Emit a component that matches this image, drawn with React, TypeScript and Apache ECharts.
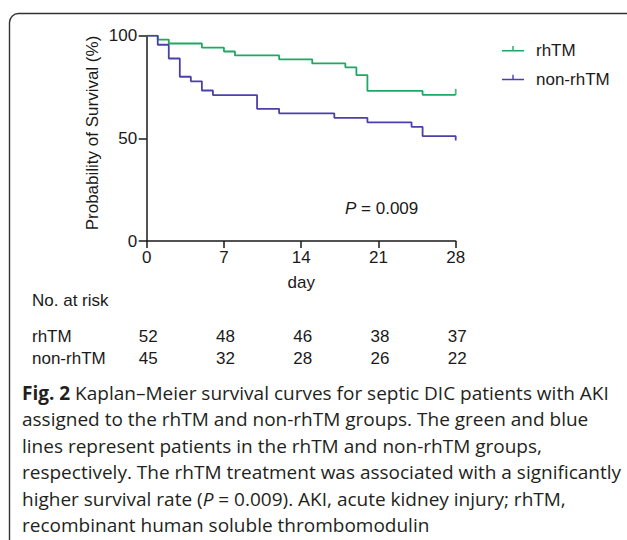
import React, { useEffect, useRef } from "react";
import * as echarts from "echarts";

// ---- data ----
const xTicks = [0, 7, 14, 21, 28];
const yTicks = [0, 50, 100];
const rhTMSurvival: [number, number][] = [
  [0, 100], [1, 98.1], [2, 96.2], [5, 94.2], [7, 92.3], [8, 90.4], [12, 88.5],
  [15, 86.5], [18, 84.6], [19, 80.8], [20, 73.1], [25, 71.2], [28, 71.2],
];
const nonRhTMSurvival: [number, number][] = [
  [0, 100], [1, 95.6], [2, 88.9], [3, 80.0], [4, 77.8], [5, 73.3], [6, 71.1],
  [10, 64.4], [12, 62.2], [17, 60.0], [20, 57.8], [24, 55.6], [25, 51.1], [28, 48.9],
];
const rhTMCensored: [number, number][] = [[28, 71.2]];
const atRiskDays = [0, 7, 14, 21, 28];
const rhTMAtRisk = [52, 48, 46, 38, 37];
const nonRhTMAtRisk = [45, 32, 28, 26, 22];
const groupNames = ["rhTM", "non-rhTM"];
const pValueText = " = 0.009";
const captionLines = [
  "{b|Fig. 2} Kaplan–Meier survival curves for septic DIC patients with AKI",
  "assigned to the rhTM and non-rhTM groups. The green and blue",
  "lines represent patients in the rhTM and non-rhTM groups,",
  "respectively. The rhTM treatment was associated with a significantly",
  "higher survival rate ({i|P} = 0.009). AKI, acute kidney injury; rhTM,",
  "recombinant human soluble thrombomodulin",
];

const GREEN = "#1fa863";
const BLUE = "#4b40aa";
const INK = "#1a1a1a";
const SANS = "'Liberation Sans', Arial, sans-serif";
const CAP = "'Open Sans', 'Noto Sans', sans-serif";
const FS = 17;
const CAP_FS = 19;

const legendIcon =
  "path://M0,0M22,12M0,5.25H22V6.75H0ZM10.3,1.3H11.7V6H10.3Z";

export default function App() {
  const ref = useRef<HTMLDivElement>(null);
  useEffect(() => {
    if (!ref.current) return;
    const chart = echarts.init(ref.current, undefined, { renderer: "svg" });
    const option: any = {
      animation: false,
      backgroundColor: "#fff",
      grid: { left: 146.7, top: 35.7, width: 309, height: 205.3, containLabel: false },
      legend: {
        orient: "vertical",
        left: 502,
        top: 42.2,
        padding: 0,
        itemWidth: 22,
        itemHeight: 12,
        itemGap: 11.7,
        icon: legendIcon,
        data: groupNames,
        textStyle: { fontFamily: SANS, fontSize: FS, color: INK, lineHeight: 17, padding: [0, 0, 0, 7] },
      },
      xAxis: {
        type: "value",
        min: xTicks[0],
        max: xTicks[xTicks.length - 1],
        interval: 7,
        name: "day",
        nameLocation: "middle",
        nameGap: 33,
        nameTextStyle: { fontFamily: SANS, fontSize: FS, color: INK },
        splitLine: { show: false },
        axisLine: { lineStyle: { color: INK, width: 1.5 } },
        axisTick: { length: 7, lineStyle: { color: INK, width: 1.5 } },
        axisLabel: { margin: 8, fontFamily: SANS, fontSize: FS, color: INK },
      },
      yAxis: {
        type: "value",
        min: yTicks[0],
        max: yTicks[yTicks.length - 1],
        interval: 50,
        splitLine: { show: false },
        axisLine: { show: true, lineStyle: { color: INK, width: 1.5 } },
        axisTick: { show: true, length: 8, lineStyle: { color: INK, width: 1.5 } },
        axisLabel: { margin: 9.5, fontFamily: SANS, fontSize: FS, color: INK },
      },
      series: [
        {
          name: groupNames[0],
          type: "line",
          step: "end",
          data: rhTMSurvival,
          showSymbol: false,
          color: GREEN,
          lineStyle: { color: GREEN, width: 1.8 },
          z: 3,
        },
        {
          name: groupNames[1],
          type: "line",
          step: "end",
          data: nonRhTMSurvival,
          showSymbol: false,
          color: BLUE,
          lineStyle: { color: BLUE, width: 1.8 },
          z: 3,
        },
        {
          name: "censored",
          type: "scatter",
          data: rhTMCensored,
          symbol: "rect",
          symbolSize: [1.8, 6],
          symbolOffset: [0, -3],
          itemStyle: { color: GREEN },
          silent: true,
          z: 4,
        },
      ],
    };
    chart.setOption(option);

    const graphics: any[] = [];
    graphics.push({
      type: "rect",
      shape: { x: 9.5, y: 13.5, width: 900, height: 900, r: 9 },
      style: { fill: "none", stroke: "#333", lineWidth: 1.4 },
      silent: true,
      z: -1,
    });
    graphics.push({
      type: "text",
      x: 92.7,
      y: 133,
      rotation: Math.PI / 2,
      style: {
        text: "Probability of Survival (%)",
        fontFamily: SANS,
        fontSize: FS,
        fill: INK,
        align: "center",
        verticalAlign: "middle",
      },
    });
    graphics.push({
      type: "text",
      x: 345,
      y: 208,
      style: {
        text: "{i|P}" + pValueText,
        fontFamily: SANS,
        fontSize: FS,
        fill: INK,
        align: "left",
        verticalAlign: "middle",
        rich: { i: { fontStyle: "italic", fontFamily: SANS, fontSize: FS, fill: INK } },
      },
    });
    graphics.push({
      type: "text",
      x: 32,
      y: 300,
      style: { text: "No. at risk", fontFamily: SANS, fontSize: FS, fill: INK, verticalAlign: "middle" },
    });
    const rowY = [336, 358];
    const rows = [rhTMAtRisk, nonRhTMAtRisk];
    rows.forEach((vals, r) => {
      graphics.push({
        type: "text",
        x: 32,
        y: rowY[r],
        style: { text: groupNames[r], fontFamily: SANS, fontSize: FS, fill: INK, verticalAlign: "middle" },
      });
      vals.forEach((v, i) => {
        const px = chart.convertToPixel({ gridIndex: 0 }, [atRiskDays[i], 0]) as number[];
        graphics.push({
          type: "text",
          x: px[0] + 1.5,
          y: rowY[r],
          style: {
            text: String(v),
            fontFamily: SANS,
            fontSize: FS,
            fill: INK,
            align: "center",
            verticalAlign: "middle",
          },
        });
      });
    });
    captionLines.forEach((line, i) => {
      graphics.push({
        type: "text",
        x: 22,
        y: 392.5 + i * 26.5,
        style: {
          text: line,
          fontFamily: CAP,
          fontSize: CAP_FS,
          fill: "#231f20",
          verticalAlign: "middle",
          rich: {
            b: { fontWeight: "bold", fontFamily: CAP, fontSize: CAP_FS, fill: "#231f20" },
            i: { fontStyle: "italic", fontFamily: CAP, fontSize: CAP_FS, fill: "#231f20" },
          },
        },
      });
    });
    chart.setOption({ graphic: { elements: graphics } });

    return () => chart.dispose();
  }, []);
  return (
    <div
      ref={ref}
      style={{ position: "fixed", left: 0, top: 0, width: 627, height: 540, background: "#fff" }}
    />
  );
}
